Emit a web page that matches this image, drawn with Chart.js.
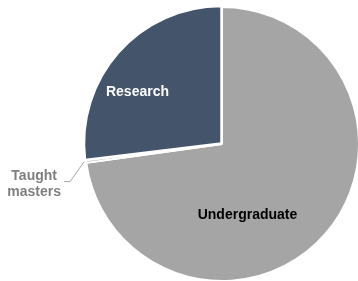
<!DOCTYPE html>
<html>
<head>
<meta charset="utf-8">
<script src="https://cdn.jsdelivr.net/npm/chart.js@4.4.0/dist/chart.umd.min.js"></script>
<style>
  html,body{margin:0;padding:0;background:#fff;}
  #wrap{width:358px;height:281px;}
</style>
</head>
<body>
<div id="wrap"><canvas id="c"></canvas></div>
<script>
const labels = ['Undergraduate', 'Taught masters', 'Research'];
const shares = [72.8, 0.3, 26.9];
const colors = ['#a5a5a5', '#bfbfbf', '#44546a'];
const offsets = [0, 0, 4];

const labelPlugin = {
  id:'sliceLabels',
  afterDatasetsDraw(chart){
    const {ctx} = chart;
    const arcs = chart.getDatasetMeta(0).data;
    const ug = arcs[0], tm = arcs[1];
    const cx = ug.x, cy = ug.y, r = ug.outerRadius;
    ctx.save();
    ctx.font = 'bold 14px "Liberation Sans", Arial, sans-serif';
    ctx.textAlign = 'center';
    ctx.textBaseline = 'middle';
    // in-slice labels
    ctx.fillStyle = '#ffffff';
    ctx.fillText('Research', cx - 0.617*r, cy - 0.38*r);
    ctx.fillStyle = '#000000';
    ctx.fillText('Undergraduate', cx + 0.186*r, cy + 0.518*r);
    // leader line for the thin slice
    const mid = (tm.startAngle + tm.endAngle) / 2;
    const px = tm.x + Math.cos(mid)*tm.outerRadius;
    const py = tm.y + Math.sin(mid)*tm.outerRadius;
    ctx.strokeStyle = '#a6a6a6';
    ctx.lineWidth = 1;
    ctx.beginPath();
    ctx.moveTo(px - 2, py);
    ctx.lineTo(px - 16, py + 20);
    ctx.lineTo(px - 22, py + 20);
    ctx.stroke();
    ctx.fillStyle = '#7f7f7f';
    ctx.fillText('Taught', px - 52, py + 15);
    ctx.fillText('masters', px - 52, py + 31);
    ctx.restore();
  }
};

new Chart(document.getElementById('c'), {
  type:'pie',
  data:{
    labels,
    datasets:[{
      data: shares,
      backgroundColor: colors,
      borderColor:'#ffffff',
      borderWidth:2,
      offset: offsets,
      clip:false
    }]
  },
  options:{
    responsive:true,
    maintainAspectRatio:false,
    animation:false,
    radius:137,
    layout:{padding:{left:86, right:0, top:7, bottom:0}},
    plugins:{legend:{display:false}, tooltip:{enabled:false}}
  },
  plugins:[labelPlugin]
});
</script>
</body>
</html>
